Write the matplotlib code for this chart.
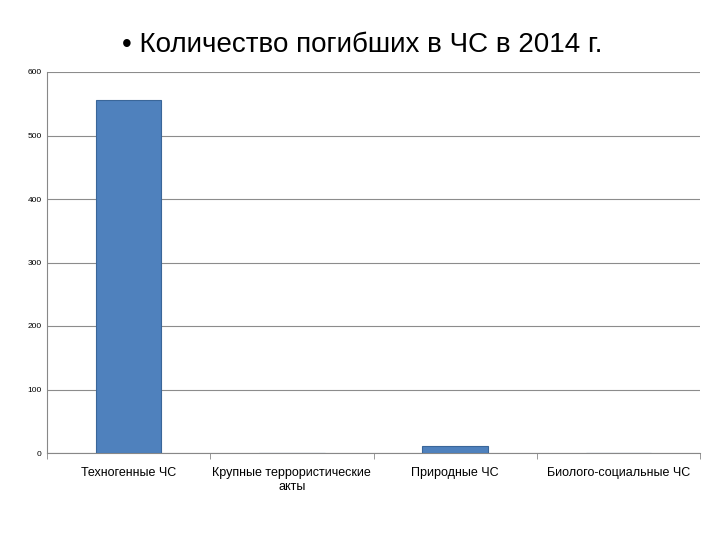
import matplotlib
matplotlib.use("Agg")
import matplotlib.pyplot as plt
import numpy as np

categories = ["Техногенные ЧС", "Крупные террористические\nакты", "Природные ЧС", "Биолого-социальные ЧС"]
values = [556, 0, 11, 0]
yticks = [0, 100, 200, 300, 400, 500, 600]

plt.rcParams['font.family'] = ['Liberation Sans', 'DejaVu Sans']
fig = plt.figure(figsize=(7.2, 5.4), dpi=100)
ax = fig.add_axes([47/720, 1-453/540, 653/720, 381/540])
x = np.arange(len(categories))
ax.bar(x, values, width=0.4, color='#4f81bd', edgecolor='#3a6699', linewidth=0.8, zorder=3)
ax.set_xlim(-0.5, len(categories)-0.5)
ax.set_ylim(0, 600)
ax.set_yticks(yticks)
ax.set_yticklabels([str(v) for v in yticks], fontsize=6)
ax.set_xticks(x)
ax.set_xticklabels(categories, fontsize=9)
ax.set_xticks(np.arange(len(categories)+1)-0.5, minor=True)
ax.tick_params(axis='x', which='major', length=0, pad=10)
ax.tick_params(axis='x', which='minor', length=4, color='#888888')
ax.tick_params(axis='y', length=0, pad=4)
ax.grid(axis='y', color='#8c8c8c', linewidth=0.8, zorder=0)
for s in ['top', 'right']:
    ax.spines[s].set_visible(False)
ax.spines['left'].set_color('#888888')
ax.spines['bottom'].set_color('#888888')
fig.text(362/720, 1-45/540, "• Количество погибших в ЧС в 2014 г.", ha='center', va='center', fontsize=20)
fig.savefig("out.png", dpi=100)
